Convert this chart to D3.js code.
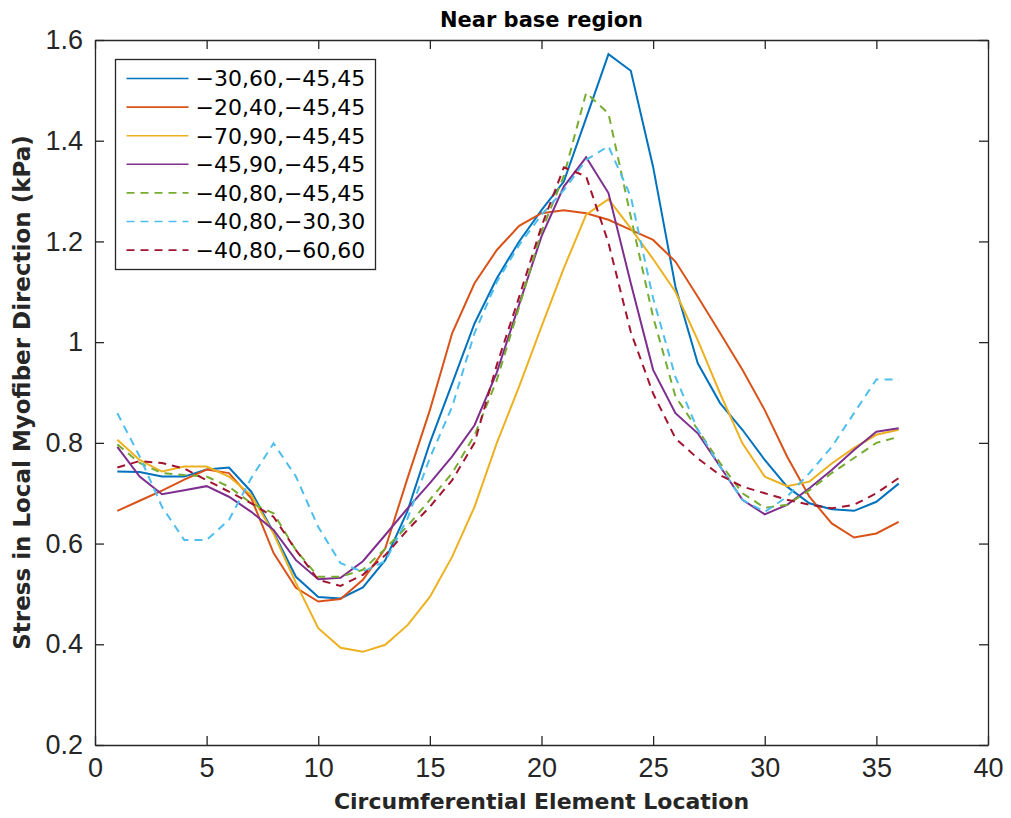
<!DOCTYPE html>
<html>
<head>
<meta charset="utf-8">
<script src="https://cdn.jsdelivr.net/npm/d3@7"></script>
<style>
  body { margin: 0; background: #fff; }
  svg { display: block; }
</style>
</head>
<body>
<script>
// element positions 1..36 around the circumference
var locations = d3.range(1, 37);

// stress values, one array per fiber-angle case
var s_30_60_45 = [0.743, 0.742, 0.733, 0.733, 0.747, 0.751, 0.703, 0.622, 0.534, 0.494, 0.491, 0.513,
  0.567, 0.665, 0.800, 0.918, 1.037, 1.127, 1.200, 1.262, 1.319, 1.445, 1.572, 1.539,
  1.348, 1.110, 0.958, 0.879, 0.826, 0.766, 0.713, 0.680, 0.668, 0.665, 0.683, 0.719];
var s_20_40_45 = [0.665, 0.685, 0.705, 0.727, 0.747, 0.740, 0.690, 0.581, 0.512, 0.485, 0.490, 0.528,
  0.590, 0.730, 0.865, 1.018, 1.117, 1.183, 1.231, 1.256, 1.262, 1.256, 1.243, 1.223,
  1.203, 1.160, 1.090, 1.018, 0.945, 0.865, 0.773, 0.693, 0.640, 0.612, 0.620, 0.643];
var s_70_90_45 = [0.806, 0.766, 0.743, 0.753, 0.753, 0.733, 0.696, 0.620, 0.522, 0.432, 0.393, 0.385,
  0.399, 0.438, 0.494, 0.574, 0.673, 0.800, 0.912, 1.031, 1.147, 1.253, 1.284, 1.226,
  1.165, 1.100, 1.004, 0.898, 0.799, 0.733, 0.714, 0.723, 0.759, 0.790, 0.816, 0.826];
var s_45_90_45 = [0.792, 0.733, 0.698, 0.706, 0.714, 0.693, 0.663, 0.627, 0.567, 0.529, 0.532, 0.565,
  0.617, 0.670, 0.720, 0.773, 0.835, 0.940, 1.075, 1.210, 1.309, 1.367, 1.296, 1.117,
  0.945, 0.859, 0.819, 0.753, 0.687, 0.658, 0.677, 0.710, 0.746, 0.786, 0.822, 0.829];
var s_40_80_45 = [0.797, 0.760, 0.740, 0.736, 0.733, 0.713, 0.680, 0.660, 0.587, 0.534, 0.534, 0.548,
  0.590, 0.635, 0.687, 0.740, 0.815, 0.925, 1.070, 1.220, 1.330, 1.495, 1.454, 1.249,
  1.050, 0.892, 0.826, 0.760, 0.700, 0.671, 0.677, 0.706, 0.740, 0.770, 0.800, 0.812];
var s_40_80_30 = [0.859, 0.773, 0.673, 0.607, 0.607, 0.647, 0.730, 0.799, 0.733, 0.633, 0.561, 0.544,
  0.565, 0.650, 0.770, 0.872, 1.018, 1.120, 1.193, 1.253, 1.302, 1.362, 1.389, 1.289,
  1.087, 0.931, 0.826, 0.753, 0.687, 0.663, 0.693, 0.740, 0.792, 0.859, 0.926, 0.926];
var s_40_80_60 = [0.751, 0.764, 0.760, 0.749, 0.726, 0.703, 0.680, 0.653, 0.587, 0.528, 0.516, 0.538,
  0.577, 0.627, 0.673, 0.726, 0.800, 0.955, 1.090, 1.230, 1.347, 1.329, 1.197, 1.020,
  0.898, 0.809, 0.769, 0.736, 0.713, 0.700, 0.687, 0.677, 0.670, 0.677, 0.700, 0.730];

var seriesNames = ["\u221230,60,\u221245,45", "\u221220,40,\u221245,45", "\u221270,90,\u221245,45",
  "\u221245,90,\u221245,45", "\u221240,80,\u221245,45", "\u221240,80,\u221230,30", "\u221240,80,\u221260,60"];
var seriesValues = [s_30_60_45, s_20_40_45, s_70_90_45, s_45_90_45, s_40_80_45, s_40_80_30, s_40_80_60];
var seriesColors = ["#0072BD", "#D95319", "#EDB120", "#7E2F8E", "#77AC30", "#4DBEEE", "#A2142F"];
var seriesDashed = [false, false, false, false, true, true, true];

var xTicks = [0, 5, 10, 15, 20, 25, 30, 35, 40];
var yTicks = [0.2, 0.4, 0.6, 0.8, 1.0, 1.2, 1.4, 1.6];

// plot box inside the 1011x818 page
var margin = {top: 40, right: 23, bottom: 73, left: 95},
    width = 1011 - margin.left - margin.right,
    height = 818 - margin.top - margin.bottom;

var svg = d3.select("body").append("svg")
    .attr("width", 1011)
    .attr("height", 818)
    .append("g")
    .attr("transform", "translate(" + margin.left + "," + margin.top + ")");

var x = d3.scaleLinear().domain([0, 40]).range([0, width]);
var y = d3.scaleLinear().domain([0.2, 1.6]).range([height, 0]);

var axisColor = "#262626";
var tickFont = "'Liberation Sans', Arial, sans-serif";

// bottom / left axes with inward ticks, like matlab
var gx = svg.append("g")
    .attr("transform", "translate(0," + height + ")")
    .call(d3.axisBottom(x).tickValues(xTicks).tickSizeInner(-9).tickSizeOuter(0).tickPadding(13)
      .tickFormat(d3.format("d")));
var gy = svg.append("g")
    .call(d3.axisLeft(y).tickValues(yTicks).tickSizeInner(-9).tickSizeOuter(0).tickPadding(12)
      .tickFormat(d3.format("~g")));
// top / right: ticks only
var gt = svg.append("g")
    .call(d3.axisTop(x).tickValues(xTicks).tickSizeInner(-9).tickSizeOuter(0).tickFormat(""));
var gr = svg.append("g")
    .attr("transform", "translate(" + width + ",0)")
    .call(d3.axisRight(y).tickValues(yTicks).tickSizeInner(-9).tickSizeOuter(0).tickFormat(""));

[gx, gy, gt, gr].forEach(function(g) {
  g.select(".domain").attr("stroke", axisColor).attr("stroke-width", 1.3);
  g.selectAll(".tick line").attr("stroke", axisColor).attr("stroke-width", 1.3);
  g.selectAll(".tick text")
    .attr("fill", axisColor)
    .style("font-family", tickFont)
    .style("font-size", "27px");
});

// the data lines
var line = d3.line()
    .x(function(d, i) { return x(locations[i]); })
    .y(function(d) { return y(d); });

seriesValues.forEach(function(vals, k) {
  svg.append("path")
    .datum(vals)
    .attr("fill", "none")
    .attr("stroke", seriesColors[k])
    .attr("stroke-width", 2)
    .attr("stroke-dasharray", seriesDashed[k] ? "8,6" : null)
    .attr("d", line);
});

// title and axis labels
svg.append("text")
    .attr("x", width / 2)
    .attr("y", -13)
    .style("text-anchor", "middle")
    .style("font-family", "'DejaVu Sans', sans-serif")
    .style("font-weight", "bold")
    .style("font-size", "21px")
    .attr("fill", "#000")
    .text("Near base region");

svg.append("text")
    .attr("x", width / 2)
    .attr("y", height + 64)
    .style("text-anchor", "middle")
    .style("font-family", "'DejaVu Sans', sans-serif")
    .style("font-weight", "bold")
    .style("font-size", "22px")
    .attr("fill", axisColor)
    .text("Circumferential Element Location");

svg.append("text")
    .attr("transform", "rotate(-90)")
    .attr("x", -height / 2)
    .attr("y", 30 - margin.left)
    .style("text-anchor", "middle")
    .style("font-family", "'DejaVu Sans', sans-serif")
    .style("font-weight", "bold")
    .style("font-size", "23px")
    .attr("fill", axisColor)
    .text("Stress in Local Myofiber Direction (kPa)");

// legend box, top-left
var legend = svg.append("g")
    .attr("transform", "translate(" + (115.5 - margin.left) + "," + (59.5 - margin.top) + ")");

legend.append("rect")
    .attr("width", 260)
    .attr("height", 210)
    .attr("fill", "#fff")
    .attr("stroke", axisColor)
    .attr("stroke-width", 1.3);

seriesNames.forEach(function(name, k) {
  var ry = 19 + k * 28.6;
  legend.append("line")
    .attr("x1", 11).attr("x2", 73)
    .attr("y1", ry).attr("y2", ry)
    .attr("stroke", seriesColors[k])
    .attr("stroke-width", 1.6)
    .attr("stroke-dasharray", seriesDashed[k] ? "8,6" : null);
  legend.append("text")
    .attr("x", 80)
    .attr("y", ry)
    .attr("dy", "0.36em")
    .style("font-family", "'DejaVu Sans', sans-serif")
    .style("font-size", "22px")
    .attr("fill", "#000")
    .text(name);
});
</script>
</body>
</html>
